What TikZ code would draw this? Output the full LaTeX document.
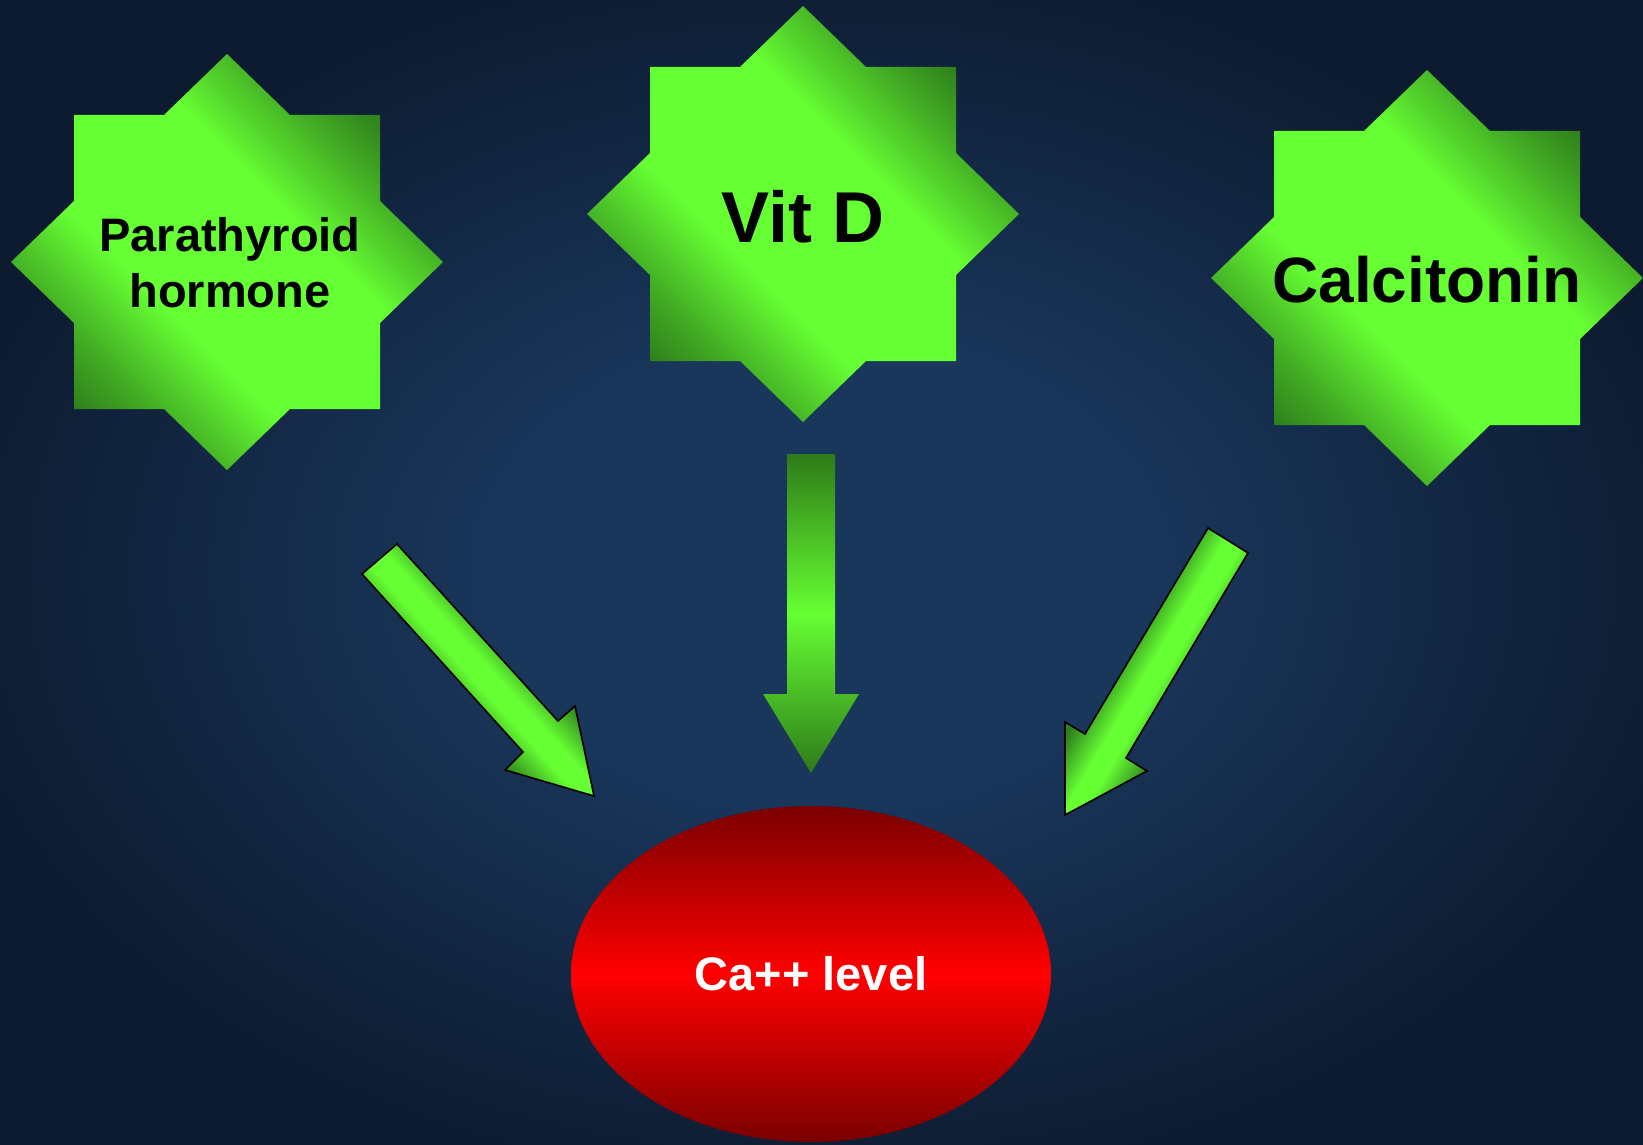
\documentclass[tikz,border=0pt]{standalone}
\usepackage{fontspec}
\setmainfont{Liberation Sans}
\usepackage[dvipsnames]{xcolor}
\usepackage{tikz}
\usetikzlibrary{shapes.geometric}

\definecolor{bgin}{RGB}{25,54,91}
\definecolor{bgout}{RGB}{13,27,48}
\definecolor{leaf}{RGB}{102,255,51}
\definecolor{leafmid}{RGB}{66,170,36}
\definecolor{leafdk}{RGB}{47,128,28}
\definecolor{moss}{RGB}{46,122,25}
\definecolor{blood}{RGB}{122,0,0}

\pgfdeclareradialshading{bgglow}{\pgfpoint{0bp}{0bp}}{color(0bp)=(bgin); color(10bp)=(bgin); color(27bp)=(bgout); color(50bp)=(bgout)}
\pgfdeclareverticalshading{starglow}{100bp}{color(0bp)=(leafdk); color(25bp)=(leafdk); color(31bp)=(leafmid); color(41bp)=(leaf); color(59bp)=(leaf); color(69bp)=(leafmid); color(75bp)=(leafdk); color(100bp)=(leafdk)}
\pgfdeclareverticalshading{shaftglow}{100bp}{color(0bp)=(leafdk); color(40bp)=(leafdk); color(48bp)=(leaf); color(52bp)=(leaf); color(60bp)=(leafdk); color(100bp)=(leafdk)}

% eight-pointed star (square + diamond) round a centre
\newcommand{\starat}[2]{%
 \shade[starfill,shift={(#1,#2)}] (0,-208)--(63,-147)--(153,-147)--(153,-61)--(216,0)--(153,61)
  --(153,147)--(63,147)--(0,208)--(-63,147)--(-153,147)--(-153,61)--(-216,0)--(-153,-61)
  --(-153,-147)--(-63,-147)--cycle;}

\begin{document}
\begin{tikzpicture}[x=1pt,y=-1pt,
 starfill/.style={shading=starglow,shading angle=-45},
 startext/.style={text=black,align=center,inner sep=0pt},
 blockarrow/.style={draw=black,line width=1.6pt,line join=miter,shading=shaftglow},
 level/.style={ellipse,minimum width=480pt,minimum height=336pt,inner sep=0pt,
  top color=blood,bottom color=blood,middle color=red,text=white,
  font=\fontsize{47}{56}\selectfont\bfseries}]
 \useasboundingbox (0,0) rectangle (1643,1145);
 \shade[shading=bgglow] (0,0) rectangle (1643,1145);

 % hormones
 \starat{227}{262}
 \node[startext,font=\fontsize{47}{56}\selectfont\bfseries] (pth) at (230,263) {Parathyroid\\hormone};
 \starat{803}{214}
 \node[startext,font=\fontsize{72}{80}\selectfont\bfseries,anchor=base] (vitd) at (803,242) {Vit D};
 \starat{1427}{278}
 \node[startext,font=\fontsize{64}{72}\selectfont\bfseries,anchor=base] (calc) at (1427,302) {Calcitonin};

 % block arrows
 \shade[blockarrow,shading angle=-47.85] (362,574)--(397,544)--(558,721)--(575,706)--(594,796)--(505,770)--(523,752)--cycle;
 \shade[top color=moss,bottom color=moss,middle color=leaf] (787,454)--(835,454)--(835,694)--(859,694)--(811,773)--(763,694)--(787,694)--cycle;
 \shade[blockarrow,shading angle=59.3] (1208,528)--(1248,553)--(1126,758)--(1147,771)--(1065,815)--(1065,722)--(1085,734)--cycle;

 \node[level] (ca) at (811,974) {Ca++ level};
\end{tikzpicture}
\end{document}
